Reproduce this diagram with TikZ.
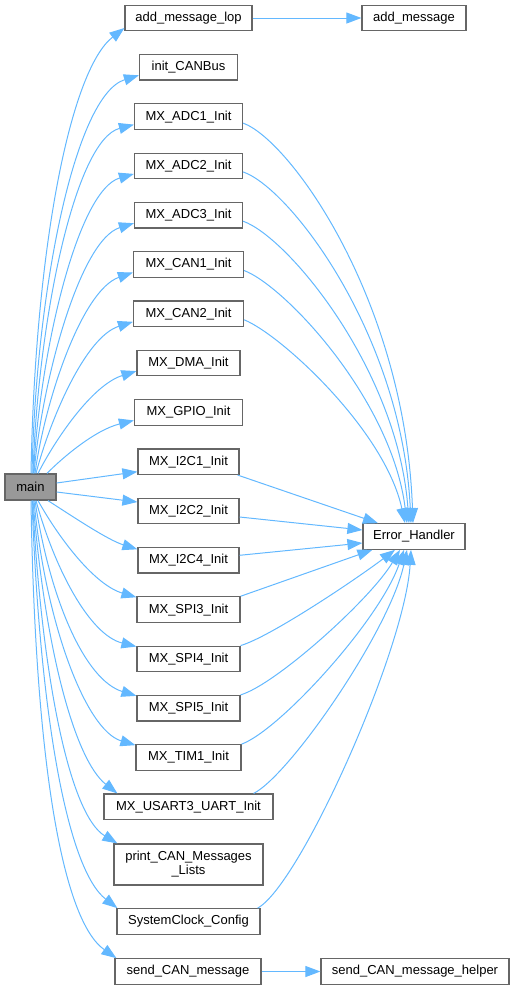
\documentclass[tikz,border=0pt]{standalone}
\usepackage{fontspec}
\setmainfont{Liberation Sans}
\usetikzlibrary{arrows.meta}
\definecolor{edgeblue}{HTML}{63B8FF}
\definecolor{boxgray}{HTML}{666666}
\definecolor{mainfill}{HTML}{999999}
\newcommand\nodefont{\fontsize{13}{14}\selectfont}
\begin{document}
\begin{tikzpicture}[x=1pt,y=1pt,
  fn/.style={draw=boxgray, fill=white, line width=1.2pt, minimum height=25.5pt, inner sep=0pt, font=\nodefont, align=center},
  callarrow/.style={draw=edgeblue, line width=1pt, -{Triangle[length=15pt,width=11pt]}}]
\useasboundingbox (0,0) rectangle (513,-989);
% nodes
\node[fn, fill=mainfill, minimum width=51pt, minimum height=26pt] (main) at (30.5,-487) {main};
\node[fn, minimum width=127pt] (lop) at (188.5,-18) {add\_message\_lop};
\node[fn, minimum width=104pt] (addmsg) at (414,-18) {add\_message};
\node[fn, minimum width=98pt] (init) at (188.5,-67.3) {init\_CANBus};
\node[fn, minimum width=108pt] (adc1) at (188.5,-116.6) {MX\_ADC1\_Init};
\node[fn, minimum width=108pt] (adc2) at (188.5,-165.9) {MX\_ADC2\_Init};
\node[fn, minimum width=108pt] (adc3) at (188.5,-215.2) {MX\_ADC3\_Init};
\node[fn, minimum width=110pt] (can1) at (188.5,-264.5) {MX\_CAN1\_Init};
\node[fn, minimum width=110pt] (can2) at (188.5,-313.8) {MX\_CAN2\_Init};
\node[fn, minimum width=103pt] (dma) at (188.5,-363.1) {MX\_DMA\_Init};
\node[fn, minimum width=108pt] (gpio) at (188.5,-412.4) {MX\_GPIO\_Init};
\node[fn, minimum width=101pt] (i2c1) at (188.5,-461.7) {MX\_I2C1\_Init};
\node[fn, minimum width=101pt] (i2c2) at (188.5,-511) {MX\_I2C2\_Init};
\node[fn, minimum width=101pt] (i2c4) at (188.5,-560.3) {MX\_I2C4\_Init};
\node[fn, minimum width=103pt] (spi3) at (188.5,-609.6) {MX\_SPI3\_Init};
\node[fn, minimum width=103pt] (spi4) at (188.5,-658.9) {MX\_SPI4\_Init};
\node[fn, minimum width=103pt] (spi5) at (188.5,-708.2) {MX\_SPI5\_Init};
\node[fn, minimum width=105pt] (tim1) at (188.5,-757.5) {MX\_TIM1\_Init};
\node[fn, minimum width=169pt] (usart3) at (188.5,-806.8) {MX\_USART3\_UART\_Init};
\node[fn, minimum width=149pt, minimum height=41pt] (print) at (188.5,-864.5) {print\_CAN\_Messages\\\_Lists};
\node[fn, minimum width=143pt] (sc) at (188.5,-921.5) {SystemClock\_Config};
\node[fn, minimum width=146pt] (send) at (188,-971.5) {send\_CAN\_message};
\node[fn, minimum width=188pt] (helper) at (415,-971.5) {send\_CAN\_message\_helper};
\node[fn, minimum width=102pt] (eh) at (414,-536.5) {Error\_Handler};
% edges from main (upwards)
\draw[callarrow] ([xshift=0.5pt]main.north) .. controls (35,-250) and (70,-70) .. ([yshift=-10pt]lop.west);
\draw[callarrow] ([xshift=1.5pt]main.north) .. controls (36,-290) and (75,-95) .. ([yshift=-8pt]init.west);
\draw[callarrow] ([xshift=2.5pt]main.north) .. controls (38,-320) and (75,-140) .. ([yshift=-8pt]adc1.west);
\draw[callarrow] ([xshift=3pt]main.north) .. controls (40,-350) and (78,-190) .. ([yshift=-8pt]adc2.west);
\draw[callarrow] ([xshift=3.5pt]main.north) .. controls (42,-380) and (80,-240) .. ([yshift=-8pt]adc3.west);
\draw[callarrow] ([xshift=4.5pt]main.north) .. controls (45,-400) and (82,-290) .. ([yshift=-8pt]can1.west);
\draw[callarrow] ([xshift=5.5pt]main.north) .. controls (50,-420) and (85,-337) .. ([yshift=-8pt]can2.west);
\draw[callarrow] ([xshift=7.5pt]main.north) .. controls (55,-440) and (92,-385) .. ([yshift=-8pt]dma.west);
\draw[callarrow] ([xshift=16.5pt]main.north) .. controls (62,-458) and (95,-430) .. ([yshift=-8pt]gpio.west);
% edges from main (right)
\draw[callarrow] ([yshift=4pt]main.east) -- ([yshift=-10pt]i2c1.west);
\draw[callarrow] ([yshift=-5pt]main.east) -- ([yshift=9pt]i2c2.west);
\draw[callarrow] ([xshift=17.5pt]main.south) .. controls (75,-518) and (108,-540) .. ([yshift=11pt]i2c4.west);
% edges from main (downwards)
\draw[callarrow] ([xshift=7.5pt]main.south) .. controls (60,-540) and (95,-585) .. ([yshift=-1pt]spi3.north west);
\draw[callarrow] ([xshift=5.5pt]main.south) .. controls (55,-570) and (90,-635) .. ([yshift=-1pt]spi4.north west);
\draw[callarrow] ([xshift=4.5pt]main.south) .. controls (50,-600) and (85,-680) .. ([yshift=-1pt]spi5.north west);
\draw[callarrow] ([xshift=3.5pt]main.south) .. controls (45,-620) and (85,-730) .. ([yshift=-1pt]tim1.north west);
\draw[callarrow] ([xshift=2.5pt]main.south) .. controls (45,-650) and (75,-760) .. ([xshift=14pt]usart3.north west);
\draw[callarrow] ([xshift=2pt]main.south) .. controls (42,-680) and (70,-815) .. ([xshift=4pt]print.north west);
\draw[callarrow] ([xshift=1.5pt]main.south) .. controls (40,-720) and (68,-870) .. ([xshift=1pt]sc.north west);
\draw[callarrow] ([xshift=0.5pt]main.south) .. controls (35,-760) and (62,-920) .. ([xshift=2pt]send.north west);
% second level
\draw[callarrow] (lop.east) -- (addmsg.west);
\draw[callarrow] (send.east) -- (helper.west);
% edges to Error_Handler
\draw[callarrow] ([yshift=-6.5pt]adc1.east) .. controls (290,-140) and (405,-300) .. ([xshift=-1pt]eh.north);
\draw[callarrow] ([yshift=-6pt]adc2.east) .. controls (290,-188) and (402,-335) .. ([xshift=-3pt]eh.north);
\draw[callarrow] ([yshift=-6pt]adc3.east) .. controls (288,-237) and (398,-370) .. ([xshift=-5pt]eh.north);
\draw[callarrow] ([yshift=-6pt]can1.east) .. controls (285,-286) and (392,-400) .. ([xshift=-7pt]eh.north);
\draw[callarrow] ([yshift=-6pt]can2.east) .. controls (280,-334) and (385,-430) .. ([xshift=-9pt]eh.north);
\draw[callarrow] ([xshift=-2pt]i2c1.south east) -- ([xshift=-36pt]eh.north);
\draw[callarrow] ([yshift=-6pt]i2c2.east) -- ([yshift=6.5pt]eh.west);
\draw[callarrow] ([yshift=5pt]i2c4.east) -- ([yshift=-6.5pt]eh.west);
\draw[callarrow] (spi3.north east) -- ([xshift=10pt]eh.south west);
\draw[callarrow] (spi4.north east) .. controls (270,-637) and (355,-580) .. ([xshift=-19pt]eh.south);
\draw[callarrow] (spi5.north east) .. controls (275,-685) and (370,-600) .. ([xshift=-14pt]eh.south);
\draw[callarrow] (tim1.north east) .. controls (280,-730) and (380,-620) .. ([xshift=-10pt]eh.south);
\draw[callarrow] ([xshift=-20pt]usart3.north east) .. controls (290,-775) and (390,-630) .. ([xshift=-7pt]eh.south);
\draw[callarrow] ([xshift=-3pt]sc.north east) .. controls (300,-885) and (405,-650) .. ([xshift=-3pt]eh.south);
\end{tikzpicture}
\end{document}
